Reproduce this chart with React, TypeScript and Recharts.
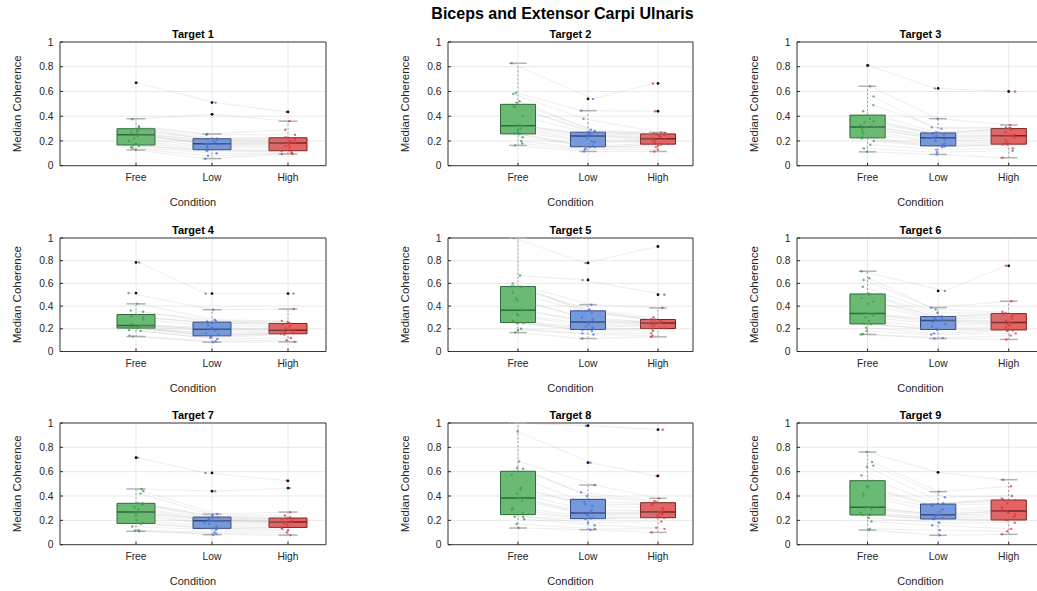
import React from 'react';
import {
  ComposedChart,
  XAxis,
  YAxis,
  CartesianGrid,
  ReferenceArea,
  ReferenceLine,
  Scatter,
} from 'recharts';

const CONDITIONS = ['Free', 'Low', 'High'];
const X_TICKS = [1, 2, 3];
const Y_TICKS = [0, 0.2, 0.4, 0.6, 0.8, 1];

// box stats per condition (Free / Low / High): [lower whisker, q1, median, q3, upper whisker]
const T1_BOX = [
  [0.127, 0.167, 0.25, 0.299, 0.38],
  [0.057, 0.129, 0.178, 0.218, 0.256],
  [0.094, 0.121, 0.183, 0.226, 0.36],
];
const T1_FREE = [0.67, 0.375, 0.32, 0.31, 0.3, 0.295, 0.28, 0.27, 0.26, 0.25, 0.25, 0.24, 0.22, 0.2, 0.18, 0.165, 0.16, 0.15, 0.14, 0.127];
const T1_LOW = [0.51, 0.415, 0.256, 0.25, 0.22, 0.216, 0.21, 0.2, 0.19, 0.18, 0.176, 0.17, 0.16, 0.15, 0.135, 0.125, 0.12, 0.1, 0.08, 0.057];
const T1_HIGH = [0.435, 0.36, 0.29, 0.25, 0.23, 0.222, 0.21, 0.2, 0.19, 0.185, 0.18, 0.17, 0.16, 0.15, 0.125, 0.118, 0.11, 0.1, 0.095, 0.094];

const T2_BOX = [
  [0.164, 0.257, 0.323, 0.496, 0.828],
  [0.115, 0.153, 0.241, 0.271, 0.445],
  [0.115, 0.174, 0.217, 0.257, 0.268],
];
const T2_FREE = [0.828, 0.59, 0.58, 0.52, 0.51, 0.48, 0.475, 0.4, 0.33, 0.325, 0.32, 0.3, 0.29, 0.27, 0.26, 0.255, 0.23, 0.2, 0.18, 0.164];
const T2_LOW = [0.54, 0.445, 0.38, 0.29, 0.28, 0.272, 0.27, 0.26, 0.25, 0.245, 0.238, 0.22, 0.2, 0.19, 0.16, 0.15, 0.15, 0.14, 0.13, 0.115];
const T2_HIGH = [0.665, 0.44, 0.268, 0.265, 0.26, 0.255, 0.25, 0.24, 0.23, 0.22, 0.215, 0.21, 0.2, 0.19, 0.18, 0.17, 0.165, 0.15, 0.13, 0.115];

const T3_BOX = [
  [0.112, 0.225, 0.313, 0.409, 0.642],
  [0.091, 0.16, 0.225, 0.265, 0.38],
  [0.064, 0.174, 0.243, 0.3, 0.329],
];
const T3_FREE = [0.81, 0.642, 0.56, 0.49, 0.44, 0.38, 0.36, 0.35, 0.33, 0.32, 0.31, 0.3, 0.28, 0.26, 0.23, 0.22, 0.2, 0.17, 0.14, 0.112];
const T3_LOW = [0.625, 0.38, 0.31, 0.3, 0.27, 0.26, 0.26, 0.25, 0.24, 0.23, 0.22, 0.21, 0.2, 0.18, 0.165, 0.155, 0.15, 0.13, 0.11, 0.091];
const T3_HIGH = [0.6, 0.329, 0.31, 0.305, 0.3, 0.3, 0.29, 0.27, 0.25, 0.245, 0.24, 0.23, 0.21, 0.19, 0.18, 0.17, 0.17, 0.14, 0.12, 0.064];

const T4_BOX = [
  [0.132, 0.206, 0.229, 0.326, 0.42],
  [0.082, 0.138, 0.197, 0.259, 0.368],
  [0.085, 0.156, 0.188, 0.247, 0.374],
];
const T4_FREE = [0.785, 0.515, 0.42, 0.36, 0.35, 0.31, 0.3, 0.28, 0.24, 0.23, 0.228, 0.22, 0.22, 0.21, 0.208, 0.205, 0.19, 0.18, 0.14, 0.132];
const T4_LOW = [0.51, 0.368, 0.28, 0.27, 0.265, 0.255, 0.25, 0.23, 0.21, 0.2, 0.195, 0.18, 0.16, 0.15, 0.14, 0.135, 0.12, 0.11, 0.09, 0.082];
const T4_HIGH = [0.51, 0.374, 0.27, 0.26, 0.25, 0.245, 0.24, 0.22, 0.2, 0.19, 0.186, 0.18, 0.17, 0.165, 0.16, 0.155, 0.15, 0.12, 0.1, 0.085];

const T5_BOX = [
  [0.167, 0.255, 0.364, 0.572, 1.0],
  [0.114, 0.194, 0.261, 0.358, 0.413],
  [0.129, 0.202, 0.252, 0.282, 0.384],
];
const T5_FREE = [1.0, 0.67, 0.6, 0.575, 0.575, 0.57, 0.52, 0.47, 0.45, 0.37, 0.36, 0.33, 0.32, 0.27, 0.26, 0.25, 0.25, 0.2, 0.19, 0.167];
const T5_LOW = [0.78, 0.63, 0.413, 0.37, 0.36, 0.355, 0.34, 0.3, 0.28, 0.265, 0.258, 0.24, 0.22, 0.21, 0.2, 0.19, 0.18, 0.16, 0.15, 0.114];
const T5_HIGH = [0.925, 0.5, 0.384, 0.3, 0.285, 0.28, 0.27, 0.26, 0.255, 0.253, 0.25, 0.245, 0.24, 0.23, 0.205, 0.2, 0.18, 0.16, 0.14, 0.129];

const T6_BOX = [
  [0.15, 0.243, 0.334, 0.507, 0.707],
  [0.114, 0.194, 0.273, 0.308, 0.387],
  [0.106, 0.19, 0.255, 0.334, 0.443],
];
const T6_FREE = [0.707, 0.645, 0.63, 0.57, 0.51, 0.505, 0.47, 0.44, 0.42, 0.34, 0.33, 0.32, 0.3, 0.27, 0.245, 0.24, 0.21, 0.18, 0.155, 0.15];
const T6_LOW = [0.534, 0.387, 0.37, 0.34, 0.31, 0.305, 0.3, 0.29, 0.28, 0.275, 0.27, 0.26, 0.24, 0.22, 0.2, 0.19, 0.16, 0.15, 0.12, 0.114];
const T6_HIGH = [0.755, 0.443, 0.35, 0.34, 0.335, 0.33, 0.31, 0.29, 0.27, 0.26, 0.25, 0.24, 0.23, 0.21, 0.195, 0.185, 0.18, 0.16, 0.14, 0.106];

const T7_BOX = [
  [0.11, 0.175, 0.268, 0.34, 0.458],
  [0.082, 0.134, 0.197, 0.227, 0.252],
  [0.079, 0.142, 0.186, 0.219, 0.268],
];
const T7_FREE = [0.715, 0.458, 0.44, 0.42, 0.34, 0.34, 0.33, 0.31, 0.29, 0.27, 0.265, 0.26, 0.24, 0.2, 0.18, 0.17, 0.15, 0.12, 0.115, 0.11];
const T7_LOW = [0.59, 0.44, 0.252, 0.245, 0.23, 0.225, 0.22, 0.21, 0.2, 0.198, 0.196, 0.18, 0.17, 0.15, 0.135, 0.13, 0.12, 0.1, 0.09, 0.082];
const T7_HIGH = [0.525, 0.465, 0.268, 0.24, 0.225, 0.215, 0.21, 0.2, 0.19, 0.187, 0.185, 0.18, 0.17, 0.16, 0.145, 0.14, 0.13, 0.12, 0.1, 0.079];

const T8_BOX = [
  [0.137, 0.247, 0.384, 0.603, 1.0],
  [0.123, 0.214, 0.26, 0.373, 0.49],
  [0.101, 0.222, 0.268, 0.345, 0.381],
];
const T8_FREE = [1.0, 0.93, 0.685, 0.63, 0.625, 0.575, 0.47, 0.455, 0.42, 0.385, 0.38, 0.36, 0.3, 0.285, 0.26, 0.23, 0.23, 0.21, 0.17, 0.137];
const T8_LOW = [0.978, 0.674, 0.49, 0.43, 0.4, 0.35, 0.33, 0.32, 0.28, 0.265, 0.255, 0.25, 0.24, 0.22, 0.215, 0.21, 0.18, 0.16, 0.13, 0.123];
const T8_HIGH = [0.945, 0.565, 0.381, 0.36, 0.35, 0.34, 0.33, 0.3, 0.28, 0.27, 0.265, 0.26, 0.25, 0.24, 0.225, 0.22, 0.19, 0.14, 0.13, 0.101];

const T9_BOX = [
  [0.12, 0.244, 0.307, 0.526, 0.762],
  [0.077, 0.211, 0.247, 0.334, 0.436],
  [0.085, 0.203, 0.277, 0.367, 0.534],
];
const T9_FREE = [0.762, 0.68, 0.65, 0.64, 0.57, 0.48, 0.47, 0.42, 0.4, 0.31, 0.305, 0.29, 0.26, 0.25, 0.245, 0.243, 0.22, 0.19, 0.13, 0.12];
const T9_LOW = [0.595, 0.436, 0.39, 0.34, 0.335, 0.33, 0.32, 0.29, 0.27, 0.25, 0.245, 0.24, 0.23, 0.22, 0.212, 0.21, 0.18, 0.16, 0.12, 0.077];
const T9_HIGH = [0.534, 0.48, 0.4, 0.38, 0.37, 0.365, 0.34, 0.31, 0.29, 0.28, 0.275, 0.26, 0.25, 0.23, 0.205, 0.2, 0.18, 0.13, 0.11, 0.085];

type Target = { title: string; box: number[][]; values: number[][] };

const TARGETS: Target[] = [
  { title: 'Target 1', box: T1_BOX, values: [T1_FREE, T1_LOW, T1_HIGH] },
  { title: 'Target 2', box: T2_BOX, values: [T2_FREE, T2_LOW, T2_HIGH] },
  { title: 'Target 3', box: T3_BOX, values: [T3_FREE, T3_LOW, T3_HIGH] },
  { title: 'Target 4', box: T4_BOX, values: [T4_FREE, T4_LOW, T4_HIGH] },
  { title: 'Target 5', box: T5_BOX, values: [T5_FREE, T5_LOW, T5_HIGH] },
  { title: 'Target 6', box: T6_BOX, values: [T6_FREE, T6_LOW, T6_HIGH] },
  { title: 'Target 7', box: T7_BOX, values: [T7_FREE, T7_LOW, T7_HIGH] },
  { title: 'Target 8', box: T8_BOX, values: [T8_FREE, T8_LOW, T8_HIGH] },
  { title: 'Target 9', box: T9_BOX, values: [T9_FREE, T9_LOW, T9_HIGH] },
];

const FILL = ['#5cb567', '#6790e0', '#e25656'];
const EDGE = ['#2d6a36', '#2c4380', '#7d2020'];
const DOT = ['#3f9a4c', '#4a72d6', '#d63a3a'];
const INK = '#262626';

// plot-area placement of the 3x3 grid (page px)
const COL_X = [59.7, 448.3, 797];
const COL_W = [266, 245, 247];
const ROW_Y = [42.3, 237.7, 423.3];
const ROW_H = [123.7, 113.5, 121.7];
const AXIS_W = 50;
const TOP = 20;
const RIGHT = 4;
const BOTTOM = 45;

// fixed horizontal spread of the dots, in category units
function jitter(panel: number, cond: number, subj: number) {
  const v = Math.sin(panel * 91.7 + cond * 47.3 + subj * 12.9898 + 1) * 43758.5453;
  return (v - Math.floor(v) - 0.5) * 0.2;
}

const dot = (fill: string, r: number, op: number) => (p: any) =>
  <circle cx={p.cx} cy={p.cy} r={r} fill={fill} fillOpacity={op} />;

const noSymbol = () => <g />;

function Panel({ t, idx }: { t: Target; idx: number }) {
  const col = idx % 3;
  const row = Math.floor(idx / 3);
  const w = COL_W[col];
  const h = ROW_H[row];

  const subjects = t.values[0].map((_, s) =>
    t.values.map((vals, c) => ({ x: c + 1 + jitter(idx, c, s), y: vals[s] })),
  );
  const outliers = t.values.flatMap((vals, c) =>
    vals.filter((v) => v > t.box[c][4] + 1e-9 || v < t.box[c][0] - 1e-9).map((v) => ({ x: c + 1, y: v })),
  );

  return (
    <div style={{ position: 'absolute', left: COL_X[col] - AXIS_W, top: ROW_Y[row] - TOP }}>
      <ComposedChart
        width={AXIS_W + w + RIGHT}
        height={TOP + h + BOTTOM}
        margin={{ top: TOP, right: RIGHT, bottom: 0, left: 0 }}
      >
        <CartesianGrid stroke="#e8e8e8" />
        <XAxis
          type="number"
          dataKey="x"
          domain={[0, 3.5]}
          ticks={X_TICKS}
          interval={0}
          allowDataOverflow
          height={BOTTOM}
          axisLine={false}
          tickSize={-3}
          tickMargin={11}
          tickLine={{ stroke: INK }}
          tick={{ fontSize: 10.3, fill: INK }}
          tickFormatter={(v: number) => CONDITIONS[v - 1]}
          label={{
            content: (p: any) => (
              <text
                x={p.viewBox.x + p.viewBox.width / 2}
                y={p.viewBox.y + 36}
                textAnchor="middle"
                dominantBaseline="central"
                fontSize={11}
                fill={INK}
              >
                Condition
              </text>
            ),
          }}
        />
        <YAxis
          type="number"
          dataKey="y"
          domain={[0, 1]}
          ticks={Y_TICKS}
          interval={0}
          allowDataOverflow
          width={AXIS_W}
          axisLine={false}
          tickSize={-3}
          tickMargin={9.5}
          tickLine={{ stroke: INK }}
          tick={{ fontSize: 10.3, fill: INK }}
          tickFormatter={(v: number) => String(v)}
          label={{
            content: (p: any) => {
              const cx = p.viewBox.x + 7;
              const cy = p.viewBox.y + p.viewBox.height / 2;
              return (
                <text
                  x={cx}
                  y={cy}
                  transform={`rotate(-90 ${cx} ${cy})`}
                  textAnchor="middle"
                  dominantBaseline="central"
                  fontSize={11.5}
                  fill={INK}
                >
                  Median Coherence
                </text>
              );
            },
          }}
        />
        {t.box.map((b, c) => (
          <ReferenceArea
            key={`box${c}`}
            x1={c + 0.75}
            x2={c + 1.25}
            y1={b[1]}
            y2={b[3]}
            fill={FILL[c]}
            fillOpacity={0.92}
            stroke={EDGE[c]}
            strokeWidth={1}
            ifOverflow="visible"
          />
        ))}
        {t.box.map((b, c) => (
          <ReferenceLine
            key={`wu${c}`}
            segment={[{ x: c + 1, y: b[3] }, { x: c + 1, y: b[4] }]}
            stroke="#8c8c8c"
            strokeDasharray="2 2"
            strokeWidth={0.8}
            ifOverflow="visible"
          />
        ))}
        {t.box.map((b, c) => (
          <ReferenceLine
            key={`wl${c}`}
            segment={[{ x: c + 1, y: b[0] }, { x: c + 1, y: b[1] }]}
            stroke="#8c8c8c"
            strokeDasharray="2 2"
            strokeWidth={0.8}
            ifOverflow="visible"
          />
        ))}
        {t.box.map((b, c) => (
          <ReferenceLine
            key={`cu${c}`}
            segment={[{ x: c + 0.875, y: b[4] }, { x: c + 1.125, y: b[4] }]}
            stroke="#b3b3b3"
            strokeWidth={1.5}
            ifOverflow="visible"
          />
        ))}
        {t.box.map((b, c) => (
          <ReferenceLine
            key={`cl${c}`}
            segment={[{ x: c + 0.875, y: b[0] }, { x: c + 1.125, y: b[0] }]}
            stroke="#b3b3b3"
            strokeWidth={1.5}
            ifOverflow="visible"
          />
        ))}
        {t.box.map((b, c) => (
          <ReferenceLine
            key={`md${c}`}
            segment={[{ x: c + 0.75, y: b[2] }, { x: c + 1.25, y: b[2] }]}
            stroke={EDGE[c]}
            strokeWidth={1.5}
            ifOverflow="visible"
          />
        ))}
        {subjects.map((pts, s) => (
          <Scatter
            key={`ln${s}`}
            data={pts}
            line={{ stroke: '#9a9a9a', strokeWidth: 0.5, strokeOpacity: 0.35 }}
            shape={noSymbol}
            isAnimationActive={false}
          />
        ))}
        {t.values.map((_, c) => (
          <Scatter
            key={`pt${c}`}
            data={subjects.map((pts) => pts[c])}
            shape={dot(DOT[c], 1.2, 0.75)}
            isAnimationActive={false}
          />
        ))}
        <Scatter data={outliers} shape={dot('#111111', 1.4, 1)} isAnimationActive={false} />
        <ReferenceArea
          x1={0}
          x2={3.5}
          y1={0}
          y2={1}
          fill="none"
          stroke={INK}
          strokeWidth={0.9}
          ifOverflow="visible"
          label={{ value: t.title, position: 'top', offset: 4, fontSize: 11, fontWeight: 'bold', fill: '#000' }}
        />
      </ComposedChart>
    </div>
  );
}

export default function App() {
  return (
    <div
      style={{
        position: 'fixed',
        left: 0,
        top: 0,
        width: 1037,
        height: 591,
        overflow: 'hidden',
        background: '#fff',
        fontFamily: '"Liberation Sans", Arial, Helvetica, sans-serif',
      }}
    >
      <div
        style={{
          position: 'absolute',
          left: 0,
          top: 5,
          width: 1125,
          textAlign: 'center',
          fontSize: 16,
          fontWeight: 'bold',
          color: '#000',
        }}
      >
        Biceps and Extensor Carpi Ulnaris
      </div>
      {TARGETS.map((t, i) => (
        <Panel key={t.title} t={t} idx={i} />
      ))}
    </div>
  );
}
